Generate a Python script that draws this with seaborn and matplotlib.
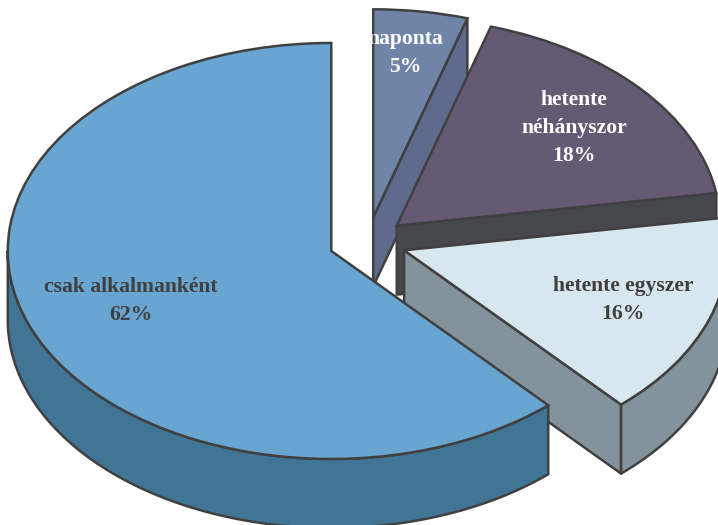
import numpy as np
import matplotlib
matplotlib.use("Agg")
import matplotlib.pyplot as plt
from matplotlib.patches import Polygon
import seaborn as sns

# ─────────────────────────────────────────────
# DATA
# ─────────────────────────────────────────────
categories = ["naponta", "hetente\nnéhányszor", "hetente egyszer", "csak alkalmanként"]
values = [4.7, 17.8, 15.8, 61.7]
pct_labels = ["5%", "18%", "16%", "62%"]

top_colors = ["#7084a8", "#655a74", "#d8e6ee", "#68a5d0"]
side_colors = ["#5f6a8c", "#47484d", "#83929b", "#407595"]
text_colors = ["white", "white", "#404040", "#404040"]
label_pos = [(405, 53), (574, 128), (623, 300), (131, 301)]

EDGE = "#404040"
W, H = 718, 525
CX, CY = 367.5, 242     # pie centre in pixels
RX, RY = 323.5, 208     # pixels per data unit
DEPTH = 69 / RY


# ─────────────────────────────────────────────
# SIDE WALLS OF ONE SLICE
# ─────────────────────────────────────────────
def draw_sides(ax, wedge, color, zorder):
    cx, cy = wedge.center
    t1, t2 = wedge.theta1, wedge.theta2

    def add(xs, ys):
        xs = np.asarray(xs)
        ys = np.asarray(ys)
        pts = np.column_stack([np.r_[xs, xs[::-1]], np.r_[ys, ys[::-1] - DEPTH]])
        ax.add_patch(Polygon(pts, closed=True, facecolor=color, edgecolor=EDGE,
                             linewidth=1.8, joinstyle="round", zorder=zorder))

    # cut faces turned towards the viewer
    for t, visible in ((t1, np.cos(np.radians(t1)) > 1e-6),
                       (t2, np.cos(np.radians(t2)) < -1e-6)):
        if visible:
            a = np.radians(t)
            add([cx, cx + wedge.r * np.cos(a)], [cy, cy + wedge.r * np.sin(a)])

    # outer rim, front half only
    lo, hi = max(t1, -180), min(t2, 0)
    if hi > lo:
        a = np.radians(np.linspace(lo, hi, 120))
        add(cx + wedge.r * np.cos(a), cy + wedge.r * np.sin(a))


# ─────────────────────────────────────────────
# PLOT
# ─────────────────────────────────────────────
sns.set_theme(style="white")
plt.rcParams["font.family"] = ["Liberation Serif", "DejaVu Serif"]

fig = plt.figure(figsize=(W / 100, H / 100), dpi=100)
ax = fig.add_axes([0, 0, 1, 1])

wedges, _ = ax.pie(values, colors=top_colors, explode=[0.12] * 4, startangle=90,
                   counterclock=False, radius=1,
                   wedgeprops={"edgecolor": EDGE, "linewidth": 1.8})
ax.set_aspect("auto")
ax.set_xlim(-CX / RX, (W - CX) / RX)
ax.set_ylim((CY - H) / RY, CY / RY)

for i, w in enumerate(wedges):
    z = 2 + 2 * i
    draw_sides(ax, w, side_colors[i], z)
    w.set_zorder(z + 1)

for name, pct, col, (px, py) in zip(categories, pct_labels, text_colors, label_pos):
    fig.text(px / W, 1 - py / H, name + "\n" + pct, color=col, fontsize=15.6,
             fontweight="bold", ha="center", va="center", linespacing=1.52, zorder=20)

fig.savefig("out.png", dpi=100)
